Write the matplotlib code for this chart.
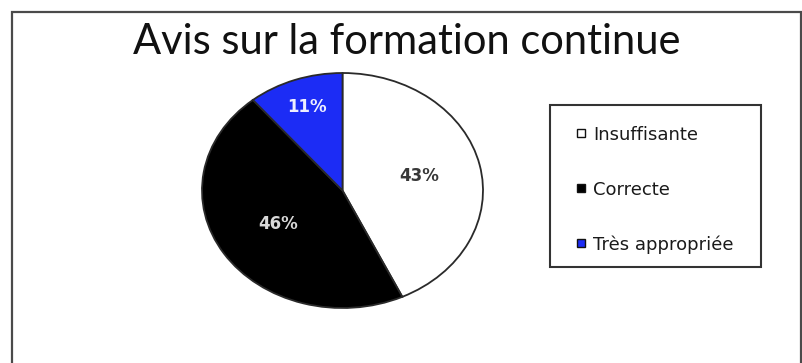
import numpy as np
import matplotlib
matplotlib.use("Agg")
import matplotlib.pyplot as plt
from matplotlib.patches import Rectangle

# Survey answers
categories = ["Insuffisante", "Correcte", "Très appropriée"]
shares = [43, 46, 11]
colors = ["#ffffff", "#000000", "#1c2cf5"]
label_colors = ["#383838", "#d8d8d8", "#eeeeff"]
label_dist = [0.56, 0.54, 0.755]
title = "Avis sur la formation continue"

W, H = 802, 363
fig = plt.figure(figsize=(W / 100, H / 100), dpi=100)
fig.patch.set_facecolor("white")

def fx(px):
    return px / W

def fy(py):
    return 1 - py / H

# outer chart frame (bottom edge falls outside the canvas)
fig.patches.append(Rectangle((fx(12), -0.1), fx(801) - fx(12), fy(12) + 0.1,
                             transform=fig.transFigure, fill=False,
                             edgecolor="#4a4a4a", linewidth=1.6))

fig.text(fx(407), fy(54), title, ha="center", va="baseline",
         fontsize=30, family="Lato", color="#111111")

# pie drawn into an axes that is wider than tall, giving an elliptical pie
ax = fig.add_axes([fx(202), fy(308), fx(483) - fx(202), (308 - 73) / H])
wedges, _ = ax.pie(shares, colors=colors, startangle=90, counterclock=False,
                   wedgeprops=dict(edgecolor="#2a2a2a", linewidth=1.3))
ax.set_aspect("auto")
ax.set_xlim(-1, 1)
ax.set_ylim(-1, 1)
ax.axis("off")

for w, v, c, d in zip(wedges, shares, label_colors, label_dist):
    mid = np.deg2rad((w.theta1 + w.theta2) / 2)
    ax.text(d * np.cos(mid), d * np.sin(mid), f"{v}%", ha="center", va="center",
            fontsize=12, fontweight="bold", family="DejaVu Sans", color=c)

# legend box
box_l, box_t, box_r, box_b = 550, 105, 761, 267
fig.patches.append(Rectangle((fx(box_l), fy(box_b)), fx(box_r) - fx(box_l),
                             (box_b - box_t) / H, transform=fig.transFigure,
                             facecolor="white", edgecolor="#333333", linewidth=1.5))
row_y = [133, 188, 243]
for name, col, yy in zip(categories, colors, row_y):
    fig.patches.append(Rectangle((fx(577), fy(yy + 4)), fx(585) - fx(577), 8 / H,
                                 transform=fig.transFigure, facecolor=col,
                                 edgecolor="#111111", linewidth=1.0))
    fig.text(fx(593), fy(yy), name, ha="left", va="center_baseline",
             fontsize=13, family="DejaVu Sans", color="#1a1a1a")

fig.savefig("out.png", dpi=100, facecolor="white")
